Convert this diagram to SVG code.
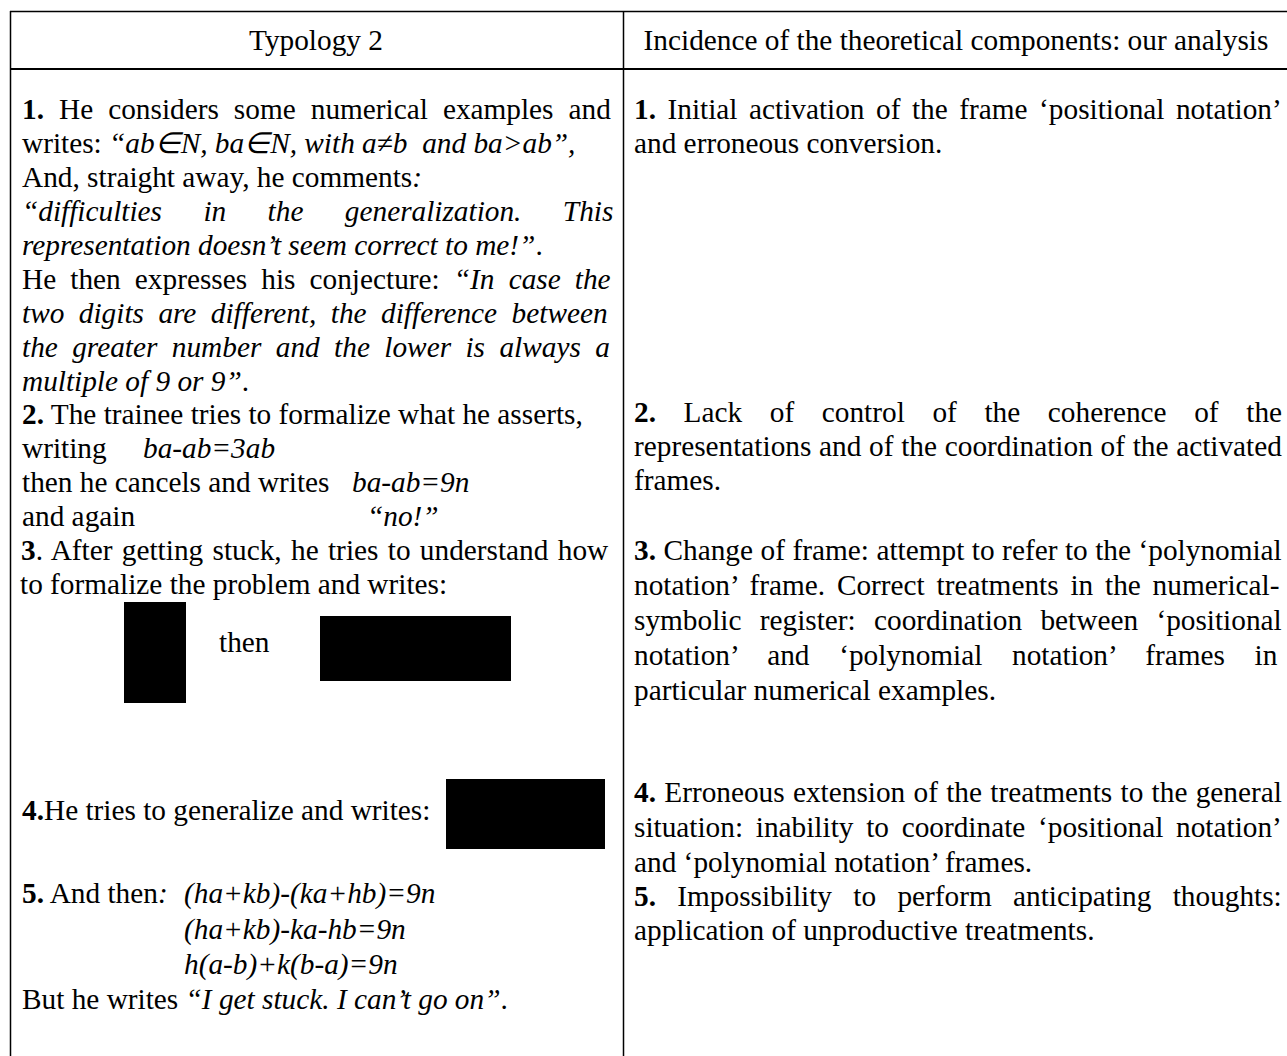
<svg xmlns="http://www.w3.org/2000/svg" width="1287" height="1056" viewBox="0 0 1287 1056">
<style>
text{font-family:"Liberation Serif","Times New Roman",serif;font-size:29.3px;fill:#000}
.b{font-weight:bold}
.i{font-style:italic}
.rule{stroke:#000;fill:none}
.mask{fill:#000}
</style>
<rect x="0" y="0" width="1287" height="1056" fill="#fff"/>
<g id="grid">
<line class="rule" x1="10" y1="11.5" x2="1287" y2="11.5" stroke-width="1.5"/>
<line class="rule" x1="10" y1="69" x2="1287" y2="69" stroke-width="2.2"/>
<line class="rule" x1="10.5" y1="11" x2="10.5" y2="1056" stroke-width="1.5"/>
<line class="rule" x1="623.5" y1="11" x2="623.5" y2="1056" stroke-width="1.5"/>
</g>
<g id="header-left"><text x="316" y="50" text-anchor="middle">Typology 2</text></g>
<g id="header-right"><text x="956" y="50" text-anchor="middle">Incidence of the theoretical components: our analysis</text></g>
<g id="left-cell">
<text x="22" y="119" word-spacing="7.7"><tspan class="b">1.</tspan> He considers some numerical examples and</text>
<text x="22" y="153">writes: <tspan class="i">“ab∈N, ba∈N, with a≠b&#160; and ba&gt;ab”,</tspan></text>
<text x="22" y="187">And, straight away, he comments<tspan class="i">:</tspan></text>
<text x="22" y="221" class="i" word-spacing="34.1">“difficulties in the generalization. This</text>
<text x="22" y="255"><tspan class="i">representation doesn’t seem correct to me!”</tspan>.</text>
<text x="22" y="289" word-spacing="6.8">He then expresses his conjecture: <tspan class="i">“In case the</tspan></text>
<text x="22" y="323" class="i" word-spacing="7.15">two digits are different, the difference between</text>
<text x="22" y="357" class="i" word-spacing="7.1">the greater number and the lower is always a</text>
<text x="22" y="391"><tspan class="i">multiple of 9 or 9”</tspan>.</text>
<text x="22" y="424"><tspan class="b">2.</tspan> The trainee tries to formalize what he asserts,</text>
<text x="22" y="458">writing</text><text x="143" y="458" class="i">ba-ab=3ab</text>
<text x="22" y="492">then he cancels and writes</text><text x="352" y="492" class="i">ba-ab=9n</text>
<text x="22" y="526">and again</text><text x="367" y="526" class="i">“no!”</text>
<text x="21" y="560" word-spacing="2"><tspan class="b">3</tspan>. After getting stuck, he tries to understand how</text>
<text x="20" y="594">to formalize the problem and writes:</text>
<rect class="mask" x="124" y="602" width="62" height="101"/>
<text x="219" y="652">then</text>
<rect class="mask" x="320" y="616" width="191" height="65"/>
<text x="22" y="820"><tspan class="b">4.</tspan>He tries to generalize and writes:</text>
<rect class="mask" x="446" y="779" width="159" height="70"/>
<text x="22" y="903"><tspan class="b">5.</tspan> And then<tspan class="i">:</tspan></text>
<text x="184" y="903" class="i">(ha+kb)-(ka+hb)=9n</text>
<text x="184" y="939" class="i">(ha+kb)-ka-hb=9n</text>
<text x="184" y="974" class="i">h(a-b)+k(b-a)=9n</text>
<text x="22" y="1009">But he writes <tspan class="i">“I get stuck. I can’t go on”</tspan>.</text>
</g>
<g id="right-cell">
<text x="634" y="119" word-spacing="4.2"><tspan class="b">1.</tspan> Initial activation of the frame ‘positional notation’</text>
<text x="634" y="153">and erroneous conversion.</text>
<text x="634" y="422" word-spacing="20.3"><tspan class="b">2.</tspan> Lack of control of the coherence of the</text>
<text x="634" y="456" word-spacing="0.4">representations and of the coordination of the activated</text>
<text x="634" y="490">frames.</text>
<text x="634" y="560" word-spacing="0.2"><tspan class="b">3.</tspan> Change of frame: attempt to refer to the ‘polynomial</text>
<text x="634" y="595" word-spacing="4.5">notation’ frame. Correct treatments in the numerical-</text>
<text x="634" y="630" word-spacing="11">symbolic register: coordination between ‘positional</text>
<text x="634" y="665" word-spacing="22.3">notation’ and ‘polynomial notation’ frames in</text>
<text x="634" y="700">particular numerical examples.</text>
<text x="634" y="802" word-spacing="0.95"><tspan class="b">4.</tspan> Erroneous extension of the treatments to the general</text>
<text x="634" y="837" word-spacing="5.4">situation: inability to coordinate ‘positional notation’</text>
<text x="634" y="872">and ‘polynomial notation’ frames.</text>
<text x="634" y="906" word-spacing="14"><tspan class="b">5.</tspan> Impossibility to perform anticipating thoughts:</text>
<text x="634" y="940">application of unproductive treatments.</text>
</g>
</svg>
